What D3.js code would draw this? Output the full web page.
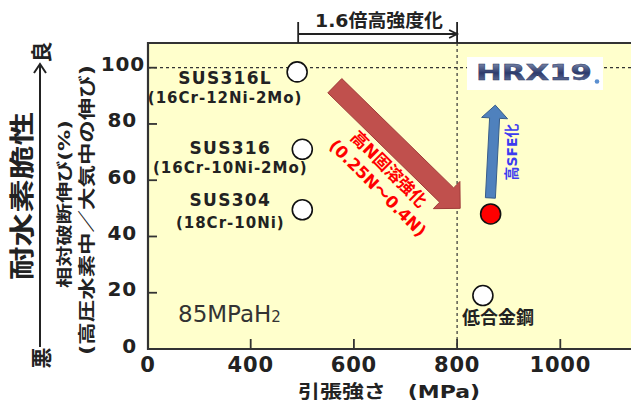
<!DOCTYPE html>
<html><head><meta charset="utf-8">
<script src="https://cdn.jsdelivr.net/npm/d3@7"></script>
<style>
html,body{margin:0;padding:0;background:#fff;}
svg{display:block;}
text{font-family:"DejaVu Sans","Noto Sans CJK JP",sans-serif;}
</style></head>
<body>
<svg id="chart" width="631" height="403"></svg>
<script>
// ---- data ----
const steels = ["SUS316L", "SUS316", "SUS304", "低合金鋼", "HRX19"];
const compositions = ["(16Cr-12Ni-2Mo)", "(16Cr-10Ni-2Mo)", "(18Cr-10Ni)", "", ""];
const tensileMPa = [490, 500, 500, 850, 865];
const relElongation = [98.5, 71, 49.5, 19, 48];
const highlight = [false, false, false, false, true];
const xTicks = [0, 400, 600, 800, 1000];
const yTicks = [0, 20, 40, 60, 80, 100];
const xTitle = "引張強さ　(MPa)";
const yTitle1 = "相対破断伸び(%)";
const yTitle2 = "(高圧水素中／大気中の伸び)";
const bigTitle = "耐水素脆性";
const condition = "85MPaH";
const strengthRef = [492, 800];          // 1.6x bracket (MPa)
const refElong = 100;                     // dotted reference (%)
const nArrow = {from: [563, 93.6], to: [806, 50]};   // high-N solid solution arrow
const sfeArrow = {from: [864.5, 53.7], to: [874, 86.7]}; // high SFE arrow

// ---- layout ----
const svg = d3.select("#chart");
const L = 148, T = 43, R = 631, B = 349;
const x = d3.scaleLinear().domain([0, 400, 1200]).range([L, 250.7, 663.5]);
const y = d3.scaleLinear().domain([0, 100]).range([B, 67.7]);
const ink = "#222";

// plot background
svg.append("rect").attr("x", L).attr("y", T).attr("width", R - L).attr("height", B - T)
  .attr("fill", "#ffffcc");

// dotted reference lines
svg.append("line").attr("x1", L).attr("x2", R).attr("y1", y(refElong)).attr("y2", y(refElong))
  .attr("stroke", "#333").attr("stroke-width", 1.2).attr("stroke-dasharray", "3,3");
svg.append("line").attr("x1", x(800)).attr("x2", x(800)).attr("y1", T).attr("y2", B)
  .attr("stroke", "#333").attr("stroke-width", 1.2).attr("stroke-dasharray", "3,3");

// frame
svg.append("path").attr("d", `M${R},${T}H${L}V${B}H${R}`).attr("fill", "none")
  .attr("stroke", "#333").attr("stroke-width", 2.2);

// ticks (inward)
svg.selectAll(".yt").data(yTicks.filter(d => d > 0)).join("line")
  .attr("x1", L).attr("x2", L + 9).attr("y1", d => y(d)).attr("y2", d => y(d))
  .attr("stroke", "#333").attr("stroke-width", 1.8);
svg.selectAll(".xt").data(xTicks.filter(d => d > 0)).join("line")
  .attr("x1", d => x(d)).attr("x2", d => x(d)).attr("y1", B).attr("y2", B - 10)
  .attr("stroke", "#333").attr("stroke-width", 1.8);

// tick labels
svg.selectAll(".yl").data(yTicks).join("text")
  .attr("x", d => d === 100 ? 145 : 137).attr("y", d => y(d) + 3.5)
  .attr("text-anchor", "end").attr("font-size", 20).attr("font-weight", "bold")
  .attr("letter-spacing", 0.8).attr("fill", ink).text(d => d);
svg.selectAll(".xl").data(xTicks).join("text")
  .attr("x", d => x(d)).attr("y", 372)
  .attr("text-anchor", "middle").attr("font-size", 21).attr("font-weight", "bold")
  .attr("letter-spacing", 0.8).attr("fill", ink).text(d => d);

// axis titles
svg.append("text").attr("x", 298).attr("y", 398).attr("font-size", 18).attr("font-weight", "bold")
  .attr("fill", ink).attr("textLength", 182).attr("lengthAdjust", "spacingAndGlyphs").text(xTitle);

function vtext(cx, cy, str, size, len, color) {
  const t = svg.append("text").attr("transform", `translate(${cx},${cy}) rotate(-90)`)
    .attr("text-anchor", "middle").attr("dy", "0.36em").attr("font-size", size)
    .attr("font-weight", "bold").attr("fill", color || ink).text(str);
  if (len) t.attr("textLength", len).attr("lengthAdjust", "spacingAndGlyphs");
  return t;
}
vtext(22, 196, bigTitle, 25, 168);
vtext(64.5, 204, yTitle1, 16, 168);
vtext(87, 210, yTitle2, 17, 290);
vtext(41, 52, "良", 21);
vtext(41, 358, "悪", 21);
// good/bad arrow
svg.append("line").attr("x1", 40).attr("x2", 40).attr("y1", 64).attr("y2", 347)
  .attr("stroke", ink).attr("stroke-width", 2);
svg.append("path").attr("d", "M34,73L40,64L46,73").attr("fill", "none")
  .attr("stroke", ink).attr("stroke-width", 2);

// 1.6x bracket
const bx0 = x(strengthRef[0]), bx1 = x(strengthRef[1]);
svg.append("path").attr("d", `M${bx0},22V43M${bx1},22V43M${bx0},34H${bx1}M${bx1 - 8},30L${bx1},34L${bx1 - 8},38`)
  .attr("fill", "none").attr("stroke", ink).attr("stroke-width", 1.8);
svg.append("text").attr("x", 315).attr("y", 27).attr("font-size", 18).attr("font-weight", "bold")
  .attr("fill", ink).attr("textLength", 128).attr("lengthAdjust", "spacingAndGlyphs").text("1.6倍高強度化");

// condition label
const ct = svg.append("text").attr("x", 178).attr("y", 322).attr("font-size", 23).attr("fill", "#333")
  .text(condition);
ct.append("tspan").attr("font-size", 15).text("2");

// block arrows
function blockArrow(a, w, hw, hl) {
  const sx = x(a.from[0]), sy = y(a.from[1]), tx = x(a.to[0]), ty = y(a.to[1]);
  const len = Math.hypot(tx - sx, ty - sy), ux = (tx - sx) / len, uy = (ty - sy) / len;
  const nx = -uy, ny = ux, bx = tx - ux * hl, by = ty - uy * hl;
  const p = [[sx + nx * w / 2, sy + ny * w / 2], [bx + nx * w / 2, by + ny * w / 2], [bx + nx * hw / 2, by + ny * hw / 2],
    [tx, ty], [bx - nx * hw / 2, by - ny * hw / 2], [bx - nx * w / 2, by - ny * w / 2], [sx - nx * w / 2, sy - ny * w / 2]];
  return "M" + p.map(q => q.join(",")).join("L") + "Z";
}
svg.append("path").attr("d", blockArrow(nArrow, 20, 38, 19)).attr("fill", "#c0504d")
  .attr("stroke", "#a03c3a").attr("stroke-width", 1);
svg.append("path").attr("d", blockArrow(sfeArrow, 10, 26, 13)).attr("fill", "#4f81bd")
  .attr("stroke", "#385d8a").attr("stroke-width", 1);

// arrow captions
svg.append("text").attr("transform", "translate(389,169) rotate(45)").attr("text-anchor", "middle")
  .attr("dy", "0.36em").attr("font-size", 17).attr("font-weight", "bold").attr("fill", "#ff0000").text("高N固溶強化");
svg.append("text").attr("transform", "translate(378,188) rotate(45)").attr("text-anchor", "middle")
  .attr("dy", "0.36em").attr("font-size", 16.5).attr("font-weight", "bold").attr("fill", "#ff0000").text("(0.25N～0.4N)");
vtext(511.7, 152, "高SFE化", 14.5, 57, "#3c3cf0");

// HRX19 logo
const defs = svg.append("defs");
const g = defs.append("linearGradient").attr("id", "lg").attr("x1", 0).attr("x2", 0).attr("y1", 0).attr("y2", 1);
g.append("stop").attr("offset", "0%").attr("stop-color", "#8a98b8");
g.append("stop").attr("offset", "50%").attr("stop-color", "#2c3a6c");
g.append("stop").attr("offset", "100%").attr("stop-color", "#7585ad");
svg.append("rect").attr("x", 467).attr("y", 57).attr("width", 136).attr("height", 33).attr("fill", "#fff");
svg.append("text").attr("x", 476).attr("y", 80).attr("font-size", 21).attr("font-weight", "bold")
  .attr("fill", "url(#lg)").attr("stroke", "#2a3560").attr("stroke-width", 0.4)
  .attr("textLength", 116).attr("lengthAdjust", "spacingAndGlyphs").text(steels[4]);
svg.append("circle").attr("cx", 597).attr("cy", 81.5).attr("r", 2.3).attr("fill", "#5b8fd0");

// points
svg.selectAll(".pt").data(d3.range(steels.length)).join("circle")
  .attr("cx", i => x(tensileMPa[i])).attr("cy", i => y(relElongation[i])).attr("r", 10)
  .attr("fill", i => highlight[i] ? "#ff0000" : "#fff").attr("stroke", "#111").attr("stroke-width", 1.6);

// point labels
const nameDy = [12, 5, -4];
const compDy = [31, 24, 18];
[0, 1, 2].forEach(i => {
  const px = x(tensileMPa[i]) - 72, py = y(relElongation[i]);
  svg.append("text").attr("x", px).attr("y", py + nameDy[i]).attr("text-anchor", "middle")
    .attr("font-size", 17).attr("font-weight", "bold").attr("letter-spacing", 1.3).attr("fill", ink).text(steels[i]);
  svg.append("text").attr("x", px).attr("y", py + compDy[i]).attr("text-anchor", "middle")
    .attr("font-size", 15).attr("font-weight", "bold").attr("letter-spacing", 1).attr("fill", ink).text(compositions[i]);
});
svg.append("text").attr("x", x(tensileMPa[3]) + 15).attr("y", y(relElongation[3]) + 28).attr("text-anchor", "middle")
  .attr("font-size", 18).attr("font-weight", "bold").attr("fill", ink).text(steels[3]);
</script>
</body></html>
